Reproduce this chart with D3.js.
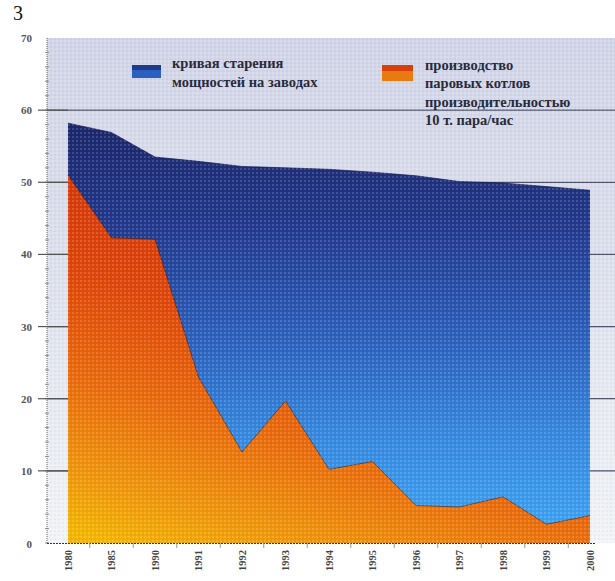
<!DOCTYPE html>
<html>
<head>
<meta charset="utf-8">
<script src="https://cdn.jsdelivr.net/npm/d3@7"></script>
<style>
  html, body { margin: 0; padding: 0; background: #fff; }
  svg { display: block; }
</style>
</head>
<body>
<svg id="chart" width="615" height="581"></svg>
<script>
// Years along the bottom axis
const years = ["1980", "1985", "1990", "1991", "1992", "1993", "1994",
               "1995", "1996", "1997", "1998", "1999", "2000"];
// Ageing curve of plant capacity
const agingValues = [58.2, 56.9, 53.5, 52.9, 52.2, 52.0, 51.8,
                     51.4, 50.9, 50.1, 49.9, 49.4, 48.9];
// Output of steam boilers, 10 t of steam per hour
const boilerValues = [51.0, 42.3, 42.1, 23.0, 12.6, 19.7, 10.2,
                      11.3, 5.2, 5.0, 6.4, 2.6, 3.8];
const yTicks = [0, 10, 20, 30, 40, 50, 60, 70];
const legendAging = ["кривая старения", "мощностей на заводах"];
const legendBoiler = ["производство", "паровых котлов", "производительностью", "10 т. пара/час"];

const SERIF = "'Liberation Serif', 'DejaVu Serif', 'Times New Roman', serif";

const svg = d3.select("#chart");
const plot = { left: 47, right: 615, top: 38, bottom: 543 };

const x = d3.scalePoint().domain(years).range([68, 590]);
const y = d3.scaleLinear().domain([0, 70]).range([plot.bottom, plot.top]);

const defs = svg.append("defs");

// Plot background: pale lavender fading toward the bottom
const bg = defs.append("linearGradient").attr("id", "bgGrad")
  .attr("x1", 0).attr("y1", 0).attr("x2", 0).attr("y2", 1);
bg.append("stop").attr("offset", "0%").attr("stop-color", "#d1d5e7");
bg.append("stop").attr("offset", "45%").attr("stop-color", "#dde1ed");
bg.append("stop").attr("offset", "100%").attr("stop-color", "#f2f4f7");

// Blue area: navy at the top to sky blue at the base
const blue = defs.append("linearGradient").attr("id", "blueGrad")
  .attr("gradientUnits", "userSpaceOnUse")
  .attr("x1", 0).attr("y1", y(60)).attr("x2", 0).attr("y2", y(0));
[["0%", "#1b2466"], ["25%", "#22378a"], ["50%", "#2b5cb8"], ["75%", "#3688de"], ["100%", "#3fa6f4"]]
  .forEach(([o, c]) => blue.append("stop").attr("offset", o).attr("stop-color", c));

// Orange area: red-orange at the top to amber at the base
const orange = defs.append("linearGradient").attr("id", "orangeGrad")
  .attr("gradientUnits", "userSpaceOnUse")
  .attr("x1", 220).attr("y1", y(51)).attr("x2", 110).attr("y2", y(0));
[["0%", "#cf320a"], ["35%", "#de470a"], ["62%", "#e96c0c"], ["86%", "#ef980b"], ["100%", "#f3b502"]]
  .forEach(([o, c]) => orange.append("stop").attr("offset", o).attr("stop-color", c));

// Halftone dot texture
const dots = defs.append("pattern").attr("id", "dots")
  .attr("patternUnits", "userSpaceOnUse").attr("width", 4).attr("height", 4);
dots.append("circle").attr("cx", 1).attr("cy", 1).attr("r", 0.8).attr("fill", "rgba(255,255,255,0.35)");
dots.append("circle").attr("cx", 3).attr("cy", 3).attr("r", 0.6).attr("fill", "rgba(0,0,40,0.12)");

svg.append("rect")
  .attr("x", plot.left).attr("y", plot.top)
  .attr("width", plot.right - plot.left).attr("height", plot.bottom - plot.top)
  .attr("fill", "url(#bgGrad)");

// Gridlines at every major value
svg.append("g").selectAll("line")
  .data(yTicks.filter(d => d > 0 && d < 70))
  .join("line")
  .attr("x1", plot.left).attr("x2", plot.right)
  .attr("y1", d => y(d)).attr("y2", d => y(d))
  .attr("stroke", "#50566a").attr("stroke-width", 1.3);

const area = vals => d3.area()
  .x((d, i) => x(years[i]))
  .y0(y(0))
  .y1(d => y(d))(vals);
const line = vals => d3.line()
  .x((d, i) => x(years[i]))
  .y(d => y(d))(vals);

svg.append("path").attr("d", area(agingValues)).attr("fill", "url(#blueGrad)");
svg.append("path").attr("d", line(agingValues))
  .attr("fill", "none").attr("stroke", "#141a4a").attr("stroke-width", 1).attr("opacity", 0.7);

svg.append("path").attr("d", area(boilerValues)).attr("fill", "url(#orangeGrad)");
svg.append("path").attr("d", line(boilerValues))
  .attr("fill", "none").attr("stroke", "#3a1a10").attr("stroke-width", 1).attr("opacity", 0.55);

// Texture over the whole plotting area
svg.append("rect")
  .attr("x", plot.left).attr("y", plot.top)
  .attr("width", plot.right - plot.left).attr("height", plot.bottom - plot.top)
  .attr("fill", "url(#dots)");

// Left axis with long major ticks and short minor ticks
const yAxis = svg.append("g");
yAxis.append("line")
  .attr("x1", plot.left).attr("x2", plot.left)
  .attr("y1", plot.top).attr("y2", plot.bottom)
  .attr("stroke", "#666").attr("stroke-width", 1).attr("stroke-dasharray", "1,1");
yAxis.selectAll("line.minor")
  .data(d3.range(0, 70, 2))
  .join("line").attr("class", "minor")
  .attr("x1", plot.left - 2).attr("x2", plot.left + 2)
  .attr("y1", d => y(d)).attr("y2", d => y(d))
  .attr("stroke", "#777").attr("stroke-width", 0.8);
yAxis.selectAll("line.major")
  .data(yTicks.filter(d => d > 0 && d < 70))
  .join("line").attr("class", "major")
  .attr("x1", 38).attr("x2", 68)
  .attr("y1", d => y(d)).attr("y2", d => y(d))
  .attr("stroke", "#555").attr("stroke-width", 1.2);
yAxis.selectAll("text")
  .data(yTicks)
  .join("text")
  .attr("x", 32).attr("y", d => y(d) + (d === 0 ? 5 : 4))
  .attr("text-anchor", "end")
  .attr("font-family", SERIF)
  .attr("font-weight", "bold")
  .attr("font-size", 11)
  .attr("fill", "#555")
  .text(d => d);

// Bottom axis
const xAxis = svg.append("g");
xAxis.append("line")
  .attr("x1", plot.left).attr("x2", 595)
  .attr("y1", plot.bottom + 0.5).attr("y2", plot.bottom + 0.5)
  .attr("stroke", "#333").attr("stroke-width", 1.2).attr("stroke-dasharray", "2,1");
xAxis.selectAll("line.tick")
  .data(years.slice(0, -1))
  .join("line").attr("class", "tick")
  .attr("x1", d => x(d) + x.step() / 2).attr("x2", d => x(d) + x.step() / 2)
  .attr("y1", plot.bottom).attr("y2", plot.bottom + 5)
  .attr("stroke", "#999");
xAxis.selectAll("text")
  .data(years)
  .join("text")
  .attr("transform", d => `translate(${x(d) + 3.5},${plot.bottom + 7}) rotate(-90)`)
  .attr("text-anchor", "end")
  .attr("font-family", SERIF)
  .attr("font-weight", "bold")
  .attr("font-size", 10.5)
  .attr("fill", "#444")
  .text(d => d);

// Legend
const legend = svg.append("g")
  .attr("font-family", SERIF)
  .attr("font-weight", "bold")
  .attr("font-size", 14.5)
  .attr("fill", "#2a2a3a");
legend.append("rect").attr("x", 132).attr("y", 65).attr("width", 29).attr("height", 13)
  .attr("fill", "#2a5fbf");
legend.append("rect").attr("x", 132).attr("y", 65).attr("width", 29).attr("height", 5)
  .attr("fill", "#1f3a8a");
legend.selectAll("text.a")
  .data(legendAging)
  .join("text").attr("class", "a")
  .attr("x", 172).attr("y", (d, i) => 68 + i * 19)
  .text(d => d);

legend.append("rect").attr("x", 382).attr("y", 65).attr("width", 31).attr("height", 16)
  .attr("fill", "#e87a10");
legend.append("rect").attr("x", 382).attr("y", 65).attr("width", 31).attr("height", 6)
  .attr("fill", "#d5400c");
legend.selectAll("text.b")
  .data(legendBoiler)
  .join("text").attr("class", "b")
  .attr("x", 425).attr("y", (d, i) => 70 + i * 18.3)
  .text(d => d);

// Figure number
svg.append("text")
  .attr("x", 13).attr("y", 20)
  .attr("font-family", SERIF)
  .attr("font-size", 20)
  .attr("fill", "#111")
  .text("3");
</script>
</body>
</html>
